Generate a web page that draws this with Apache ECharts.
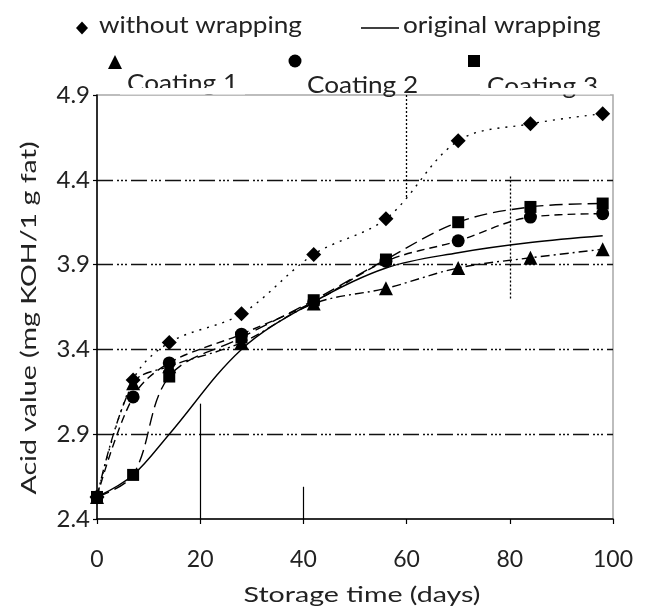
<!DOCTYPE html>
<html>
<head>
<meta charset="utf-8">
<script src="https://cdn.jsdelivr.net/npm/echarts@6/dist/echarts.min.js"></script>
<style>
  html, body { margin: 0; padding: 0; background: #fff; }
  #main { width: 646px; height: 613px; }
</style>
</head>
<body>
<div id="main"></div>
<script>
// storage days and acid values
const days = [0, 7, 14, 28, 42, 56, 70, 84, 98];
const withoutWrapping = [2.53, 3.22, 3.44, 3.61, 3.96, 4.17, 4.63, 4.73, 4.79];
const originalWrapping = [2.53, 2.66, 2.90, 3.40, 3.68, 3.88, 3.97, 4.03, 4.07];
const coating1 = [2.53, 3.20, 3.30, 3.44, 3.67, 3.76, 3.88, 3.94, 3.99];
const coating2 = [2.53, 3.12, 3.32, 3.49, 3.68, 3.92, 4.04, 4.18, 4.20];
const coating3 = [2.53, 2.66, 3.24, 3.47, 3.69, 3.93, 4.15, 4.24, 4.26];
const yTicks = [2.4, 2.9, 3.4, 3.9, 4.4, 4.9];
// stray vertical strokes in the plot: [day, from, to]
const solidGuides = [[20, 2.4, 3.08], [40, 2.4, 2.59]];
const dottedGuides = [[60, 4.9, 4.29], [80, 4.42, 3.70]];

const font = 'Lato, sans-serif';
const pairs = (ys) => days.map((d, i) => [d, ys[i]]);

const guideData = (list) => list.map(g => [{coord: [g[0], g[1]]}, {coord: [g[0], g[2]]}]);

const makeSeries = (name, ys, symbol, size, dash) => ({
    name: name,
    type: 'line',
    data: pairs(ys),
    smooth: 0.35,
    symbol: symbol,
    symbolSize: size,
    showSymbol: symbol !== 'none',
    itemStyle: {color: '#000'},
    lineStyle: {color: '#000', width: 1.4, type: dash},
    z: 3
});

// the figure's lettering is wider than it is tall, so stretch it a bit
const label = (text, x, y, size, extra) => Object.assign({
    type: 'text', x: x, y: y, z: 10, scaleX: 1.09,
    style: {
        text: text, font: size + 'px ' + font, fill: '#222',
        align: 'left', textAlign: 'left', verticalAlign: 'middle', textVerticalAlign: 'middle'
    }
}, extra || {});

let chart = echarts.init(document.getElementById('main'));

let option = {
    animation: false,
    backgroundColor: '#fff',
    grid: {
        left: 97, right: 33, top: 95, bottom: 94,
        show: true, borderColor: '#a8a8a8', borderWidth: 1.5
    },
    xAxis: {
        type: 'value', min: 0, max: 100, interval: 20,
        axisLine: {lineStyle: {color: '#000', width: 1.5}},
        axisTick: {show: true, length: 5, lineStyle: {color: '#000', width: 1.2}},
        axisLabel: {fontFamily: font, fontSize: 23, color: '#222', margin: 29},
        splitLine: {show: false}
    },
    yAxis: {
        type: 'value', min: 2.4, max: 4.9, interval: 0.5,
        axisLine: {show: true, lineStyle: {color: '#000', width: 1.5}},
        axisTick: {show: true, length: 4, lineStyle: {color: '#000', width: 1.2}},
        axisLabel: {
            fontFamily: font, fontSize: 24, color: '#222', margin: 7,
            formatter: v => yTicks.includes(+v.toFixed(1)) ? v.toFixed(1) : ''
        },
        splitLine: {
            show: true,
            lineStyle: {
                color: ['rgba(0,0,0,0)', '#111', '#111', '#111', '#111', 'rgba(0,0,0,0)'],
                width: 1.3,
                type: [16, 4, 2, 2, 2, 2, 2, 4]
            }
        }
    },
    series: [
        makeSeries('without wrapping', withoutWrapping, 'diamond', 15, [2, 6]),
        makeSeries('original wrapping', originalWrapping, 'none', 0, 'solid'),
        makeSeries('Coating 1', coating1, 'triangle', 14, [9, 4, 2, 4]),
        makeSeries('Coating 2', coating2, 'circle', 13, [8, 5]),
        makeSeries('Coating 3', coating3, 'rect', 12, [13, 6]),
        {
            name: 'guides', type: 'line', data: [], silent: true,
            markLine: {
                symbol: 'none', silent: true, label: {show: false},
                lineStyle: {color: '#000', width: 1.2, type: 'solid'},
                data: guideData(solidGuides)
            }
        },
        {
            name: 'guides2', type: 'line', data: [], silent: true,
            markLine: {
                symbol: 'none', silent: true, label: {show: false},
                lineStyle: {color: '#000', width: 1.3, type: [2, 2]},
                data: guideData(dottedGuides)
            }
        }
    ],
    graphic: [
        // axis titles
        label('Storage time (days)', 362, 595, 22, {scaleX: 1.3, style: {
            text: 'Storage time (days)', font: '22px ' + font, fill: '#222',
            align: 'center', textAlign: 'center', verticalAlign: 'middle', textVerticalAlign: 'middle'}}),
        label('Acid value (mg KOH/1 g fat)', 29, 318, 22, {scaleX: 1.3, rotation: Math.PI / 2, style: {
            text: 'Acid value (mg KOH/1 g fat)', font: '22px ' + font, fill: '#222',
            align: 'center', textAlign: 'center', verticalAlign: 'middle', textVerticalAlign: 'middle'}}),
        // legend row 1
        {type: 'polygon', shape: {points: [[82, 21.5], [88, 28], [82, 34.5], [76, 28]]}, style: {fill: '#000'}},
        label('without wrapping', 99, 25, 24),
        {type: 'line', shape: {x1: 361, y1: 28, x2: 399, y2: 28}, style: {stroke: '#000', lineWidth: 1.4}},
        label('original wrapping', 403, 25, 24),
        // legend row 2, text clipped by the plot top as in the figure
        {type: 'polygon', shape: {points: [[115, 55], [122, 69], [108, 69]]}, style: {fill: '#000'}},
        {type: 'circle', shape: {cx: 295, cy: 61, r: 6.5}, style: {fill: '#000'}},
        {type: 'rect', shape: {x: 468, y: 55, width: 12, height: 12}, style: {fill: '#000'}},
        label('Coating 1', 127, 83, 24),
        label('Coating 2', 307, 85, 24),
        label('Coating 3', 487, 86, 24),
        {type: 'rect', z: 100, shape: {x: 120, y: 88, width: 125, height: 6.5}, style: {fill: '#fff'}},
        {type: 'rect', z: 100, shape: {x: 480, y: 88, width: 130, height: 6.5}, style: {fill: '#fff'}}
    ]
};

chart.setOption(option);
</script>
</body>
</html>
